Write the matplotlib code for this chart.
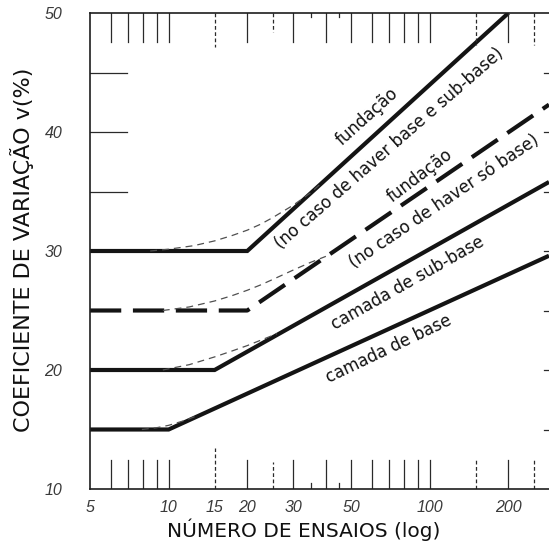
import numpy as np
import matplotlib
matplotlib.use("Agg")
import matplotlib.pyplot as plt

# ---- data ----
fund1_x = [5, 20, 200]
fund1_y = [30, 30, 50]
fund2_x = [5, 20, 286]
fund2_y = [25, 25, 42.3]
sub_x = [5, 15, 286]
sub_y = [20, 20, 35.8]
base_x = [5, 10, 286]
base_y = [15, 15, 29.6]

c30_x = [8.5, 10, 12.5, 15, 17.5, 20, 22.5, 25, 30, 35, 38]
c30_y = [30.0, 30.15, 30.45, 30.85, 31.3, 31.75, 32.25, 32.8, 33.85, 34.9, 35.6]
c25_x = [9.5, 12, 15, 17.5, 20, 22.5, 25, 30, 35, 40]
c25_y = [25.0, 25.3, 25.8, 26.25, 26.7, 27.15, 27.6, 28.4, 29.05, 29.55]
c20_x = [9.5, 12, 15, 17.5, 20, 22.5, 26]
c20_y = [20.0, 20.45, 21.1, 21.6, 22.05, 22.5, 23.05]
c15_x = [7.9, 9, 10, 11.5, 13]
c15_y = [15.0, 15.15, 15.35, 15.75, 16.2]

x_ticks = [5, 10, 15, 20, 30, 50, 100, 200]
x_tick_labels = ["5", "10", "15", "20", "30", "50", "100", "200"]
y_ticks = [10, 20, 30, 40, 50]
y_tick_labels = ["10", "20", "30", "40", "50"]

minor_solid = [6, 7, 8, 9, 10, 20, 30, 40, 50, 60, 70, 80, 90, 100, 200]
minor_dashed = [15, 25, 150, 250]
minor_short = [35, 45]
left_ticks = [35, 40, 45]
right_ticks = [15, 20, 25, 30, 35, 40, 45]

labels = [
    ("fundação", 57.8, 41.3, 42),
    ("(no caso de haver base e sub-base)", 70.3, 38.6, 41),
    ("fundação", 91.6, 36.3, 37),
    ("(no caso de haver só base)", 114, 34.2, 34),
    ("camada de sub-base", 82.4, 27.3, 29.5),
    ("camada de base", 69.7, 21.8, 25.5),
]

# ---- figure ----
fig = plt.figure(figsize=(5.49, 5.50), dpi=100)
ax = fig.add_axes([90/549, 61/550, 459/549, 476/550])
ax.set_xscale("log")
ax.set_xlim(5, 286)
ax.set_ylim(10, 50)

ink = "#141414"
thick = 3.0
ax.plot(fund1_x, fund1_y, color=ink, lw=thick, solid_capstyle="butt", solid_joinstyle="miter")
ax.plot(sub_x, sub_y, color=ink, lw=thick, solid_capstyle="butt", solid_joinstyle="miter")
ax.plot(base_x, base_y, color=ink, lw=thick, solid_capstyle="butt", solid_joinstyle="miter")
ax.plot(fund2_x, fund2_y, color=ink, lw=thick, dashes=(7.5, 2.8), dash_capstyle="butt")

thin_kw = dict(color="#505050", lw=0.9, dashes=(5.5, 4))
for cx, cy in [(c30_x, c30_y), (c25_x, c25_y), (c20_x, c20_y), (c15_x, c15_y)]:
    ax.plot(cx, cy, **thin_kw)

# ---- tick marks drawn like the original (inside, solid/dashed) ----
xt = ax.get_xaxis_transform()
yt = ax.get_yaxis_transform()
tkw = dict(color="#2a2a2a", lw=0.9)
for v in minor_solid:
    ax.plot([v, v], [0, 0.061], transform=xt, **tkw)
    ax.plot([v, v], [1, 1 - 0.061], transform=xt, **tkw)
for v in minor_dashed:
    lb = 0.086 if v == 15 else (0.057 if v == 25 else 0.065)
    lt = 0.071 if v == 15 else (0.04 if v == 25 else 0.067)
    ax.plot([v, v], [0, lb], transform=xt, dashes=(3, 2), **tkw)
    ax.plot([v, v], [1, 1 - lt], transform=xt, dashes=(3, 2), **tkw)
for v in minor_short:
    ax.plot([v, v], [0, 0.013], transform=xt, **tkw)
    ax.plot([v, v], [1, 1 - 0.008], transform=xt, **tkw)
for v in left_ticks:
    ax.plot([0, 0.08], [v, v], transform=yt, **tkw)
for v in right_ticks:
    ax.plot([0.99, 1.0], [v, v], transform=yt, **tkw)

# ---- axes styling ----
for s in ["left", "top", "bottom"]:
    ax.spines[s].set_linewidth(1.2)
    ax.spines[s].set_color("#1e1e1e")
ax.spines["right"].set_visible(False)
ax.minorticks_off()
ax.set_xticks(x_ticks)
ax.set_xticklabels(x_tick_labels)
ax.set_yticks(y_ticks)
ax.set_yticklabels(y_tick_labels)
ax.tick_params(axis="both", length=0)
ax.tick_params(axis="y", pad=20)
ax.tick_params(axis="x", pad=8)
for lab in ax.get_xticklabels() + ax.get_yticklabels():
    lab.set_fontstyle("italic")
    lab.set_fontfamily("Liberation Sans")
    lab.set_fontsize(11.5)
    lab.set_color("#3a3a3a")

for text, x, y, rot in labels:
    ax.text(x, y, text, rotation=rot, rotation_mode="anchor", ha="center", va="center",
            fontsize=12, family="DejaVu Sans", color="#111111")

fig.text(304/549, 1 - 530/550, "NÚMERO DE ENSAIOS (log)", ha="center", va="center",
         fontsize=14.5, family="DejaVu Sans", color="#111111")
fig.text(22/549, 1 - 250/550, "COEFICIENTE DE VARIAÇÃO v(%)", ha="center", va="center",
         rotation=90, fontsize=16, family="DejaVu Sans", color="#111111")

fig.savefig("out.png", dpi=100)
